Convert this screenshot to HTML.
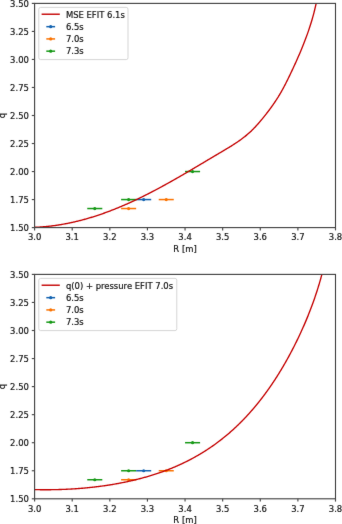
<!DOCTYPE html>
<html><head><meta charset="utf-8"><title>q profile</title>
<style>html,body{margin:0;padding:0;background:#fff;overflow:hidden}svg{display:block}</style>
</head><body>
<svg width="342" height="524" viewBox="0 0 342 524" font-family="'DejaVu Sans', 'Liberation Sans', sans-serif">
<style>text{fill:#111;stroke:#111;stroke-width:0.18px}</style>
<defs><filter id="soft" x="0" y="0" width="342" height="524" filterUnits="userSpaceOnUse" color-interpolation-filters="sRGB"><feConvolveMatrix order="3" kernelMatrix="0.01 0.05 0.01 0.05 0.76 0.05 0.01 0.05 0.01" edgeMode="duplicate"/></filter></defs>
<g filter="url(#soft)">
<rect width="342" height="524" fill="#fff"/>
<clipPath id="clip0"><rect x="34.60" y="3.40" width="300.90" height="224.20"/></clipPath>
<line x1="87.26" x2="102.30" y1="208.54" y2="208.54" stroke="#159815" stroke-width="1.5"/>
<circle cx="94.78" cy="208.54" r="1.6" fill="#159815"/>
<line x1="121.11" x2="136.15" y1="199.57" y2="199.57" stroke="#159815" stroke-width="1.5"/>
<circle cx="128.63" cy="199.57" r="1.6" fill="#159815"/>
<line x1="121.11" x2="136.15" y1="208.54" y2="208.54" stroke="#fa7200" stroke-width="1.5"/>
<circle cx="128.63" cy="208.54" r="1.6" fill="#fa7200"/>
<line x1="136.15" x2="151.20" y1="199.57" y2="199.57" stroke="#1262b0" stroke-width="1.5"/>
<circle cx="143.68" cy="199.57" r="1.6" fill="#1262b0"/>
<line x1="158.72" x2="173.77" y1="199.57" y2="199.57" stroke="#fa7200" stroke-width="1.5"/>
<circle cx="166.24" cy="199.57" r="1.6" fill="#fa7200"/>
<line x1="185.05" x2="200.09" y1="171.55" y2="171.55" stroke="#159815" stroke-width="1.5"/>
<circle cx="192.57" cy="171.55" r="1.6" fill="#159815"/>
<path d="M30.43,227.37 L31.24,227.36 L32.05,227.34 L32.86,227.32 L33.67,227.30 L34.48,227.27 L35.28,227.24 L36.09,227.21 L36.90,227.18 L37.70,227.14 L38.51,227.09 L39.31,227.05 L40.11,227.00 L40.92,226.95 L41.72,226.89 L42.52,226.83 L43.32,226.77 L44.12,226.70 L44.92,226.64 L45.72,226.56 L46.51,226.49 L47.31,226.41 L48.11,226.33 L48.90,226.25 L49.70,226.16 L50.49,226.07 L51.29,225.97 L52.08,225.88 L52.87,225.78 L53.67,225.68 L54.46,225.57 L55.25,225.46 L56.04,225.35 L56.83,225.23 L57.62,225.12 L58.41,225.00 L59.19,224.87 L59.98,224.75 L60.77,224.62 L61.55,224.49 L62.34,224.35 L63.12,224.21 L63.90,224.07 L64.69,223.93 L65.47,223.78 L66.25,223.63 L67.03,223.48 L67.81,223.33 L68.59,223.17 L69.37,223.01 L70.15,222.85 L70.93,222.68 L71.71,222.52 L72.48,222.35 L73.26,222.17 L74.03,222.00 L74.81,221.82 L75.58,221.64 L76.35,221.45 L77.13,221.27 L77.90,221.08 L78.67,220.89 L79.44,220.69 L80.21,220.50 L80.98,220.30 L81.75,220.10 L82.52,219.89 L83.28,219.69 L84.05,219.48 L84.82,219.27 L85.58,219.05 L86.35,218.84 L87.11,218.62 L87.87,218.40 L88.64,218.18 L89.40,217.95 L90.16,217.72 L90.92,217.49 L91.68,217.26 L92.44,217.03 L93.20,216.79 L93.96,216.55 L94.71,216.31 L95.47,216.07 L96.23,215.82 L96.98,215.58 L97.74,215.33 L98.49,215.08 L99.24,214.82 L100.00,214.57 L100.75,214.31 L101.50,214.05 L102.25,213.78 L103.00,213.52 L103.75,213.25 L104.50,212.99 L105.25,212.72 L105.99,212.44 L106.74,212.17 L107.49,211.89 L108.23,211.62 L108.98,211.34 L109.72,211.05 L110.47,210.77 L111.21,210.48 L111.95,210.20 L112.69,209.91 L113.43,209.62 L114.17,209.32 L114.91,209.03 L115.65,208.73 L116.39,208.43 L117.13,208.13 L117.86,207.83 L118.60,207.53 L119.33,207.22 L120.07,206.92 L120.80,206.61 L121.54,206.30 L122.27,205.98 L123.00,205.67 L123.73,205.36 L124.46,205.04 L125.19,204.72 L125.92,204.40 L126.65,204.08 L127.38,203.76 L128.11,203.43 L128.83,203.11 L129.56,202.78 L130.28,202.45 L131.01,202.12 L131.73,201.79 L132.46,201.45 L133.18,201.12 L133.90,200.78 L134.62,200.45 L135.34,200.11 L136.06,199.77 L136.78,199.42 L137.50,199.08 L138.22,198.74 L138.94,198.39 L139.65,198.04 L140.37,197.70 L141.09,197.35 L141.80,197.00 L142.52,196.64 L143.23,196.29 L143.94,195.94 L144.66,195.58 L145.37,195.22 L146.08,194.87 L146.79,194.51 L147.50,194.15 L148.21,193.78 L148.92,193.42 L149.63,193.06 L150.34,192.69 L151.05,192.33 L151.76,191.96 L152.46,191.59 L153.17,191.22 L153.88,190.85 L154.58,190.48 L155.29,190.11 L155.99,189.74 L156.70,189.36 L157.40,188.99 L158.10,188.61 L158.81,188.24 L159.51,187.86 L160.21,187.48 L160.91,187.10 L161.61,186.72 L162.31,186.34 L163.01,185.96 L163.71,185.57 L164.41,185.19 L165.11,184.80 L165.81,184.42 L166.51,184.03 L167.21,183.65 L167.91,183.26 L168.60,182.87 L169.30,182.48 L170.00,182.09 L170.69,181.70 L171.39,181.31 L172.08,180.92 L172.78,180.52 L173.47,180.13 L174.17,179.74 L174.86,179.34 L175.56,178.95 L176.25,178.55 L176.94,178.15 L177.63,177.76 L178.33,177.36 L179.02,176.96 L179.71,176.56 L180.40,176.16 L181.09,175.76 L181.79,175.36 L182.48,174.96 L183.17,174.56 L183.86,174.16 L184.55,173.76 L185.24,173.36 L185.93,172.96 L186.62,172.55 L187.31,172.15 L188.00,171.75 L188.68,171.34 L189.37,170.94 L190.06,170.53 L190.75,170.13 L191.44,169.72 L192.13,169.32 L192.81,168.91 L193.50,168.50 L194.19,168.10 L194.88,167.69 L195.56,167.28 L196.25,166.88 L196.94,166.47 L197.62,166.06 L198.31,165.65 L199.00,165.25 L199.68,164.84 L200.37,164.43 L201.05,164.02 L201.74,163.61 L202.43,163.21 L203.11,162.80 L203.80,162.39 L204.48,161.98 L205.17,161.57 L205.86,161.16 L206.54,160.76 L207.23,160.35 L207.91,159.94 L208.60,159.53 L209.28,159.12 L209.97,158.72 L210.65,158.31 L211.34,157.90 L212.02,157.49 L212.71,157.08 L213.39,156.68 L214.08,156.27 L214.76,155.86 L215.45,155.45 L216.13,155.05 L216.82,154.64 L217.50,154.23 L218.19,153.83 L218.87,153.42 L219.56,153.02 L220.25,152.61 L220.93,152.21 L221.62,151.80 L222.30,151.39 L222.99,150.99 L223.67,150.58 L224.35,150.18 L225.04,149.77 L225.72,149.36 L226.40,148.95 L227.08,148.54 L227.76,148.13 L228.44,147.72 L229.12,147.31 L229.80,146.89 L230.47,146.48 L231.15,146.06 L231.82,145.64 L232.49,145.21 L233.16,144.79 L233.82,144.36 L234.49,143.93 L235.15,143.50 L235.81,143.06 L236.47,142.63 L237.12,142.19 L237.78,141.74 L238.43,141.29 L239.08,140.84 L239.72,140.39 L240.37,139.93 L241.00,139.47 L241.64,139.00 L242.28,138.53 L242.91,138.06 L243.53,137.58 L244.16,137.09 L244.78,136.61 L245.39,136.11 L246.00,135.61 L246.61,135.11 L247.22,134.60 L247.82,134.09 L248.42,133.57 L249.01,133.05 L249.60,132.51 L250.18,131.98 L250.76,131.44 L251.33,130.89 L251.91,130.34 L252.47,129.78 L253.04,129.21 L253.59,128.65 L254.15,128.07 L254.70,127.50 L255.25,126.92 L255.80,126.33 L256.34,125.74 L256.88,125.15 L257.41,124.55 L257.94,123.95 L258.47,123.35 L259.00,122.74 L259.53,122.14 L260.05,121.53 L260.57,120.91 L261.08,120.30 L261.60,119.68 L262.11,119.06 L262.62,118.44 L263.13,117.82 L263.64,117.19 L264.14,116.57 L264.64,115.94 L265.14,115.31 L265.64,114.68 L266.14,114.05 L266.63,113.42 L267.12,112.78 L267.61,112.15 L268.10,111.51 L268.58,110.87 L269.07,110.23 L269.54,109.59 L270.02,108.94 L270.49,108.30 L270.97,107.65 L271.43,107.00 L271.90,106.35 L272.36,105.70 L272.82,105.04 L273.28,104.39 L273.73,103.73 L274.19,103.07 L274.63,102.41 L275.08,101.75 L275.52,101.08 L275.96,100.42 L276.40,99.75 L276.83,99.08 L277.26,98.41 L277.68,97.74 L278.11,97.07 L278.52,96.39 L278.94,95.71 L279.35,95.03 L279.76,94.35 L280.16,93.67 L280.57,92.98 L280.96,92.30 L281.36,91.61 L281.75,90.92 L282.13,90.23 L282.52,89.53 L282.90,88.84 L283.28,88.14 L283.65,87.45 L284.02,86.75 L284.39,86.05 L284.76,85.34 L285.13,84.64 L285.49,83.94 L285.85,83.23 L286.21,82.53 L286.56,81.82 L286.92,81.11 L287.27,80.40 L287.62,79.69 L287.97,78.98 L288.32,78.26 L288.67,77.55 L289.01,76.84 L289.36,76.12 L289.70,75.41 L290.04,74.69 L290.39,73.97 L290.73,73.26 L291.07,72.54 L291.41,71.82 L291.75,71.10 L292.09,70.38 L292.43,69.66 L292.76,68.94 L293.10,68.22 L293.44,67.50 L293.77,66.77 L294.11,66.05 L294.44,65.33 L294.77,64.60 L295.10,63.88 L295.43,63.15 L295.76,62.42 L296.09,61.70 L296.42,60.97 L296.74,60.24 L297.07,59.51 L297.39,58.78 L297.71,58.05 L298.04,57.32 L298.36,56.59 L298.67,55.86 L298.99,55.13 L299.31,54.40 L299.62,53.66 L299.94,52.93 L300.25,52.19 L300.56,51.46 L300.87,50.72 L301.17,49.98 L301.48,49.25 L301.79,48.51 L302.09,47.77 L302.39,47.03 L302.69,46.29 L302.99,45.55 L303.28,44.81 L303.58,44.07 L303.87,43.32 L304.16,42.58 L304.45,41.84 L304.74,41.09 L305.02,40.35 L305.31,39.60 L305.59,38.85 L305.87,38.11 L306.15,37.36 L306.42,36.61 L306.70,35.86 L306.97,35.11 L307.24,34.36 L307.51,33.61 L307.77,32.86 L308.04,32.11 L308.30,31.35 L308.56,30.60 L308.82,29.84 L309.07,29.09 L309.32,28.33 L309.57,27.58 L309.82,26.82 L310.07,26.06 L310.31,25.30 L310.55,24.54 L310.79,23.78 L311.03,23.02 L311.26,22.26 L311.49,21.50 L311.72,20.74 L311.95,19.97 L312.17,19.21 L312.39,18.44 L312.61,17.68 L312.82,16.91 L313.04,16.14 L313.25,15.38 L313.45,14.61 L313.66,13.84 L313.86,13.07 L314.06,12.30 L314.25,11.53 L314.45,10.75 L314.64,9.98 L314.82,9.21 L315.01,8.43 L315.19,7.66 L315.37,6.88 L315.54,6.11 L315.72,5.33 L315.88,4.55 L316.05,3.77 L316.21,2.99 L316.37,2.21 L316.53,1.43 L316.68,0.65 L316.83,-0.13 L316.98,-0.92 L317.12,-1.70 L317.26,-2.48 L317.40,-3.27 L317.53,-4.06 L317.66,-4.84" fill="none" stroke="#c40000" stroke-width="1.35" clip-path="url(#clip0)"/>
<rect x="34.60" y="3.40" width="300.90" height="224.20" fill="none" stroke="#3c3c3c" stroke-width="1.1"/>
<line x1="31.80" x2="34.60" y1="227.60" y2="227.60" stroke="#484848" stroke-width="1.15"/>
<text x="28.9" y="231.18" text-anchor="end" font-size="8.45">1.50</text>
<line x1="31.80" x2="34.60" y1="199.57" y2="199.57" stroke="#484848" stroke-width="1.15"/>
<text x="28.9" y="203.16" text-anchor="end" font-size="8.45">1.75</text>
<line x1="31.80" x2="34.60" y1="171.55" y2="171.55" stroke="#484848" stroke-width="1.15"/>
<text x="28.9" y="175.13" text-anchor="end" font-size="8.45">2.00</text>
<line x1="31.80" x2="34.60" y1="143.53" y2="143.53" stroke="#484848" stroke-width="1.15"/>
<text x="28.9" y="147.11" text-anchor="end" font-size="8.45">2.25</text>
<line x1="31.80" x2="34.60" y1="115.50" y2="115.50" stroke="#484848" stroke-width="1.15"/>
<text x="28.9" y="119.08" text-anchor="end" font-size="8.45">2.50</text>
<line x1="31.80" x2="34.60" y1="87.47" y2="87.47" stroke="#484848" stroke-width="1.15"/>
<text x="28.9" y="91.06" text-anchor="end" font-size="8.45">2.75</text>
<line x1="31.80" x2="34.60" y1="59.45" y2="59.45" stroke="#484848" stroke-width="1.15"/>
<text x="28.9" y="63.03" text-anchor="end" font-size="8.45">3.00</text>
<line x1="31.80" x2="34.60" y1="31.43" y2="31.43" stroke="#484848" stroke-width="1.15"/>
<text x="28.9" y="35.01" text-anchor="end" font-size="8.45">3.25</text>
<line x1="31.80" x2="34.60" y1="3.40" y2="3.40" stroke="#484848" stroke-width="1.15"/>
<text x="28.9" y="6.98" text-anchor="end" font-size="8.45">3.50</text>
<line x1="34.60" x2="34.60" y1="227.60" y2="230.40" stroke="#484848" stroke-width="1.15"/>
<text x="34.60" y="240.36" text-anchor="middle" font-size="8.45">3.0</text>
<line x1="72.21" x2="72.21" y1="227.60" y2="230.40" stroke="#484848" stroke-width="1.15"/>
<text x="72.21" y="240.36" text-anchor="middle" font-size="8.45">3.1</text>
<line x1="109.83" x2="109.83" y1="227.60" y2="230.40" stroke="#484848" stroke-width="1.15"/>
<text x="109.83" y="240.36" text-anchor="middle" font-size="8.45">3.2</text>
<line x1="147.44" x2="147.44" y1="227.60" y2="230.40" stroke="#484848" stroke-width="1.15"/>
<text x="147.44" y="240.36" text-anchor="middle" font-size="8.45">3.3</text>
<line x1="185.05" x2="185.05" y1="227.60" y2="230.40" stroke="#484848" stroke-width="1.15"/>
<text x="185.05" y="240.36" text-anchor="middle" font-size="8.45">3.4</text>
<line x1="222.66" x2="222.66" y1="227.60" y2="230.40" stroke="#484848" stroke-width="1.15"/>
<text x="222.66" y="240.36" text-anchor="middle" font-size="8.45">3.5</text>
<line x1="260.28" x2="260.28" y1="227.60" y2="230.40" stroke="#484848" stroke-width="1.15"/>
<text x="260.28" y="240.36" text-anchor="middle" font-size="8.45">3.6</text>
<line x1="297.89" x2="297.89" y1="227.60" y2="230.40" stroke="#484848" stroke-width="1.15"/>
<text x="297.89" y="240.36" text-anchor="middle" font-size="8.45">3.7</text>
<line x1="335.50" x2="335.50" y1="227.60" y2="230.40" stroke="#484848" stroke-width="1.15"/>
<text x="335.50" y="240.36" text-anchor="middle" font-size="8.45">3.8</text>
<text x="185.05" y="251.96" text-anchor="middle" font-size="8.45">R [m]</text>
<text transform="translate(4.90,115.50) rotate(-90)" text-anchor="middle" font-size="8.45">q</text>
<rect x="38.80" y="7.40" width="89.20" height="52.20" rx="1.8" fill="#fff" fill-opacity="0.8" stroke="#d0d0d0" stroke-width="0.9"/>
<line x1="41.6" x2="59.8" y1="14.22" y2="14.22" stroke="#c40000" stroke-width="1.4"/>
<text x="65.9" y="17.70" font-size="8.45">MSE EFIT 6.1s</text>
<line x1="46.3" x2="55.1" y1="26.67" y2="26.67" stroke="#1262b0" stroke-width="1.5"/>
<circle cx="50.7" cy="26.67" r="1.6" fill="#1262b0"/>
<text x="65.9" y="29.95" font-size="8.45">6.5s</text>
<line x1="46.3" x2="55.1" y1="38.92" y2="38.92" stroke="#fa7200" stroke-width="1.5"/>
<circle cx="50.7" cy="38.92" r="1.6" fill="#fa7200"/>
<text x="65.9" y="42.20" font-size="8.45">7.0s</text>
<line x1="46.3" x2="55.1" y1="51.17" y2="51.17" stroke="#159815" stroke-width="1.5"/>
<circle cx="50.7" cy="51.17" r="1.6" fill="#159815"/>
<text x="65.9" y="54.45" font-size="8.45">7.3s</text>
<clipPath id="clip1"><rect x="34.60" y="274.40" width="300.90" height="224.40"/></clipPath>
<line x1="87.26" x2="102.30" y1="479.73" y2="479.73" stroke="#159815" stroke-width="1.5"/>
<circle cx="94.78" cy="479.73" r="1.6" fill="#159815"/>
<line x1="121.11" x2="136.15" y1="470.75" y2="470.75" stroke="#159815" stroke-width="1.5"/>
<circle cx="128.63" cy="470.75" r="1.6" fill="#159815"/>
<line x1="121.11" x2="136.15" y1="479.73" y2="479.73" stroke="#fa7200" stroke-width="1.5"/>
<circle cx="128.63" cy="479.73" r="1.6" fill="#fa7200"/>
<line x1="136.15" x2="151.20" y1="470.75" y2="470.75" stroke="#1262b0" stroke-width="1.5"/>
<circle cx="143.68" cy="470.75" r="1.6" fill="#1262b0"/>
<line x1="158.72" x2="173.77" y1="470.75" y2="470.75" stroke="#fa7200" stroke-width="1.5"/>
<circle cx="166.24" cy="470.75" r="1.6" fill="#fa7200"/>
<line x1="185.05" x2="200.09" y1="442.70" y2="442.70" stroke="#159815" stroke-width="1.5"/>
<circle cx="192.57" cy="442.70" r="1.6" fill="#159815"/>
<path d="M30.54,489.51 L31.35,489.54 L32.16,489.56 L32.97,489.58 L33.78,489.60 L34.59,489.62 L35.40,489.63 L36.21,489.65 L37.02,489.66 L37.83,489.68 L38.65,489.69 L39.46,489.70 L40.27,489.71 L41.08,489.72 L41.89,489.72 L42.70,489.73 L43.52,489.73 L44.33,489.73 L45.14,489.74 L45.95,489.74 L46.77,489.73 L47.58,489.73 L48.39,489.73 L49.20,489.72 L50.02,489.71 L50.83,489.71 L51.64,489.70 L52.46,489.68 L53.27,489.67 L54.08,489.66 L54.90,489.64 L55.71,489.62 L56.52,489.61 L57.34,489.59 L58.15,489.56 L58.96,489.54 L59.78,489.52 L60.59,489.49 L61.40,489.46 L62.22,489.43 L63.03,489.40 L63.85,489.37 L64.66,489.34 L65.47,489.30 L66.29,489.27 L67.10,489.23 L67.91,489.19 L68.73,489.15 L69.54,489.11 L70.35,489.06 L71.17,489.02 L71.98,488.97 L72.80,488.92 L73.61,488.87 L74.42,488.82 L75.23,488.76 L76.05,488.71 L76.86,488.65 L77.67,488.59 L78.49,488.53 L79.30,488.47 L80.11,488.41 L80.92,488.34 L81.74,488.28 L82.55,488.21 L83.36,488.14 L84.17,488.07 L84.99,487.99 L85.80,487.92 L86.61,487.84 L87.42,487.76 L88.23,487.68 L89.04,487.60 L89.85,487.52 L90.66,487.43 L91.48,487.35 L92.29,487.26 L93.10,487.17 L93.91,487.07 L94.72,486.98 L95.53,486.88 L96.34,486.79 L97.14,486.69 L97.95,486.59 L98.76,486.48 L99.57,486.38 L100.38,486.27 L101.19,486.17 L102.00,486.06 L102.80,485.94 L103.61,485.83 L104.42,485.71 L105.22,485.60 L106.03,485.48 L106.84,485.36 L107.64,485.23 L108.45,485.11 L109.25,484.98 L110.06,484.86 L110.86,484.73 L111.67,484.59 L112.47,484.46 L113.28,484.32 L114.08,484.19 L114.88,484.05 L115.69,483.90 L116.49,483.76 L117.29,483.61 L118.09,483.47 L118.90,483.32 L119.70,483.17 L120.50,483.01 L121.30,482.86 L122.10,482.70 L122.90,482.54 L123.70,482.38 L124.50,482.22 L125.29,482.05 L126.09,481.88 L126.89,481.72 L127.69,481.54 L128.48,481.37 L129.28,481.20 L130.08,481.02 L130.87,480.84 L131.67,480.66 L132.46,480.47 L133.26,480.29 L134.05,480.10 L134.84,479.91 L135.64,479.72 L136.43,479.53 L137.22,479.33 L138.01,479.13 L138.80,478.93 L139.59,478.73 L140.38,478.52 L141.17,478.32 L141.96,478.11 L142.75,477.90 L143.53,477.68 L144.32,477.46 L145.10,477.25 L145.89,477.03 L146.67,476.80 L147.46,476.58 L148.24,476.35 L149.02,476.12 L149.80,475.89 L150.58,475.65 L151.36,475.41 L152.14,475.17 L152.92,474.93 L153.70,474.69 L154.48,474.44 L155.25,474.19 L156.03,473.94 L156.80,473.68 L157.57,473.43 L158.35,473.17 L159.12,472.90 L159.89,472.64 L160.66,472.37 L161.43,472.10 L162.19,471.83 L162.96,471.55 L163.73,471.27 L164.49,470.99 L165.26,470.71 L166.02,470.42 L166.78,470.14 L167.54,469.84 L168.30,469.55 L169.06,469.25 L169.82,468.95 L170.57,468.65 L171.33,468.34 L172.08,468.04 L172.84,467.73 L173.59,467.41 L174.34,467.10 L175.09,466.78 L175.84,466.45 L176.59,466.13 L177.33,465.80 L178.08,465.47 L178.82,465.14 L179.56,464.80 L180.31,464.46 L181.05,464.12 L181.78,463.77 L182.52,463.42 L183.26,463.07 L183.99,462.72 L184.73,462.36 L185.46,462.00 L186.19,461.64 L186.92,461.28 L187.65,460.91 L188.37,460.54 L189.10,460.17 L189.82,459.79 L190.54,459.41 L191.26,459.03 L191.98,458.65 L192.70,458.26 L193.42,457.87 L194.13,457.48 L194.84,457.08 L195.55,456.68 L196.26,456.28 L196.97,455.88 L197.68,455.47 L198.38,455.06 L199.09,454.65 L199.79,454.24 L200.49,453.82 L201.18,453.40 L201.88,452.98 L202.58,452.56 L203.27,452.13 L203.96,451.70 L204.65,451.26 L205.34,450.83 L206.02,450.39 L206.71,449.95 L207.39,449.51 L208.07,449.06 L208.75,448.61 L209.42,448.16 L210.10,447.71 L210.77,447.25 L211.44,446.79 L212.11,446.33 L212.78,445.87 L213.44,445.40 L214.11,444.93 L214.77,444.46 L215.43,443.98 L216.08,443.51 L216.74,443.03 L217.39,442.54 L218.04,442.06 L218.69,441.57 L219.34,441.08 L219.98,440.59 L220.62,440.09 L221.26,439.60 L221.90,439.10 L222.54,438.59 L223.17,438.09 L223.80,437.58 L224.43,437.07 L225.06,436.56 L225.68,436.04 L226.31,435.53 L226.93,435.01 L227.55,434.49 L228.16,433.96 L228.78,433.43 L229.39,432.91 L230.00,432.37 L230.61,431.84 L231.22,431.30 L231.82,430.77 L232.42,430.22 L233.02,429.68 L233.62,429.14 L234.22,428.59 L234.81,428.04 L235.40,427.49 L235.99,426.93 L236.58,426.38 L237.17,425.82 L237.75,425.26 L238.33,424.70 L238.91,424.13 L239.49,423.56 L240.07,422.99 L240.64,422.42 L241.21,421.85 L241.78,421.27 L242.35,420.70 L242.91,420.12 L243.48,419.54 L244.04,418.95 L244.60,418.37 L245.16,417.78 L245.71,417.19 L246.27,416.60 L246.82,416.00 L247.37,415.41 L247.92,414.81 L248.46,414.21 L249.01,413.61 L249.55,413.01 L250.09,412.40 L250.63,411.79 L251.16,411.18 L251.70,410.57 L252.23,409.96 L252.76,409.35 L253.29,408.73 L253.82,408.11 L254.34,407.49 L254.86,406.87 L255.38,406.25 L255.90,405.62 L256.42,404.99 L256.94,404.37 L257.45,403.74 L257.96,403.10 L258.47,402.47 L258.98,401.83 L259.48,401.20 L259.99,400.56 L260.49,399.92 L260.99,399.28 L261.49,398.63 L261.99,397.99 L262.48,397.34 L262.97,396.69 L263.46,396.04 L263.95,395.39 L264.44,394.74 L264.93,394.08 L265.41,393.43 L265.89,392.77 L266.37,392.11 L266.85,391.45 L267.33,390.79 L267.80,390.13 L268.28,389.46 L268.75,388.80 L269.22,388.13 L269.68,387.46 L270.15,386.79 L270.61,386.12 L271.08,385.44 L271.54,384.77 L271.99,384.09 L272.45,383.42 L272.91,382.74 L273.36,382.06 L273.81,381.38 L274.26,380.70 L274.71,380.01 L275.16,379.33 L275.60,378.64 L276.04,377.95 L276.49,377.27 L276.93,376.58 L277.36,375.89 L277.80,375.19 L278.23,374.50 L278.67,373.81 L279.10,373.11 L279.53,372.42 L279.96,371.72 L280.38,371.02 L280.81,370.32 L281.23,369.62 L281.65,368.92 L282.07,368.22 L282.49,367.51 L282.90,366.81 L283.32,366.10 L283.73,365.40 L284.14,364.69 L284.55,363.98 L284.96,363.27 L285.36,362.56 L285.77,361.85 L286.17,361.14 L286.57,360.42 L286.97,359.71 L287.37,358.99 L287.77,358.28 L288.16,357.56 L288.56,356.84 L288.95,356.13 L289.34,355.41 L289.73,354.69 L290.11,353.97 L290.50,353.24 L290.88,352.52 L291.26,351.80 L291.64,351.08 L292.02,350.35 L292.40,349.63 L292.78,348.90 L293.15,348.17 L293.52,347.45 L293.90,346.72 L294.27,345.99 L294.63,345.26 L295.00,344.53 L295.37,343.80 L295.73,343.07 L296.09,342.34 L296.45,341.61 L296.81,340.88 L297.17,340.14 L297.52,339.41 L297.88,338.68 L298.23,337.94 L298.58,337.21 L298.93,336.47 L299.28,335.73 L299.63,335.00 L299.97,334.26 L300.32,333.52 L300.66,332.78 L301.00,332.04 L301.34,331.30 L301.67,330.56 L302.01,329.82 L302.34,329.08 L302.68,328.34 L303.01,327.59 L303.34,326.85 L303.66,326.11 L303.99,325.36 L304.32,324.62 L304.64,323.87 L304.96,323.12 L305.28,322.38 L305.60,321.63 L305.91,320.88 L306.23,320.13 L306.54,319.38 L306.85,318.63 L307.16,317.88 L307.47,317.13 L307.78,316.38 L308.08,315.63 L308.39,314.87 L308.69,314.12 L308.99,313.37 L309.28,312.61 L309.58,311.85 L309.88,311.10 L310.17,310.34 L310.46,309.58 L310.75,308.83 L311.04,308.07 L311.32,307.31 L311.61,306.55 L311.89,305.79 L312.17,305.03 L312.45,304.26 L312.73,303.50 L313.01,302.74 L313.28,301.97 L313.55,301.21 L313.82,300.44 L314.09,299.68 L314.36,298.91 L314.63,298.15 L314.89,297.38 L315.15,296.61 L315.41,295.84 L315.67,295.07 L315.93,294.30 L316.18,293.53 L316.44,292.76 L316.69,291.99 L316.94,291.21 L317.19,290.44 L317.43,289.67 L317.68,288.89 L317.92,288.12 L318.16,287.34 L318.40,286.56 L318.63,285.78 L318.87,285.01 L319.10,284.23 L319.34,283.45 L319.56,282.67 L319.79,281.89 L320.02,281.11 L320.24,280.32 L320.47,279.54 L320.69,278.76 L320.91,277.97 L321.12,277.19 L321.34,276.40 L321.55,275.62 L321.76,274.83 L321.97,274.04 L322.18,273.25 L322.38,272.46 L322.59,271.67 L322.79,270.88 L322.99,270.09 L323.19,269.30 L323.38,268.51 L323.58,267.72 L323.77,266.92 L323.96,266.13" fill="none" stroke="#c40000" stroke-width="1.35" clip-path="url(#clip1)"/>
<rect x="34.60" y="274.40" width="300.90" height="224.40" fill="none" stroke="#3c3c3c" stroke-width="1.1"/>
<line x1="31.80" x2="34.60" y1="498.80" y2="498.80" stroke="#484848" stroke-width="1.15"/>
<text x="28.9" y="502.03" text-anchor="end" font-size="8.45">1.50</text>
<line x1="31.80" x2="34.60" y1="470.75" y2="470.75" stroke="#484848" stroke-width="1.15"/>
<text x="28.9" y="473.98" text-anchor="end" font-size="8.45">1.75</text>
<line x1="31.80" x2="34.60" y1="442.70" y2="442.70" stroke="#484848" stroke-width="1.15"/>
<text x="28.9" y="445.93" text-anchor="end" font-size="8.45">2.00</text>
<line x1="31.80" x2="34.60" y1="414.65" y2="414.65" stroke="#484848" stroke-width="1.15"/>
<text x="28.9" y="417.88" text-anchor="end" font-size="8.45">2.25</text>
<line x1="31.80" x2="34.60" y1="386.60" y2="386.60" stroke="#484848" stroke-width="1.15"/>
<text x="28.9" y="389.83" text-anchor="end" font-size="8.45">2.50</text>
<line x1="31.80" x2="34.60" y1="358.55" y2="358.55" stroke="#484848" stroke-width="1.15"/>
<text x="28.9" y="361.78" text-anchor="end" font-size="8.45">2.75</text>
<line x1="31.80" x2="34.60" y1="330.50" y2="330.50" stroke="#484848" stroke-width="1.15"/>
<text x="28.9" y="333.73" text-anchor="end" font-size="8.45">3.00</text>
<line x1="31.80" x2="34.60" y1="302.45" y2="302.45" stroke="#484848" stroke-width="1.15"/>
<text x="28.9" y="305.68" text-anchor="end" font-size="8.45">3.25</text>
<line x1="31.80" x2="34.60" y1="274.40" y2="274.40" stroke="#484848" stroke-width="1.15"/>
<text x="28.9" y="277.63" text-anchor="end" font-size="8.45">3.50</text>
<line x1="34.60" x2="34.60" y1="498.80" y2="501.60" stroke="#484848" stroke-width="1.15"/>
<text x="34.60" y="511.56" text-anchor="middle" font-size="8.45">3.0</text>
<line x1="72.21" x2="72.21" y1="498.80" y2="501.60" stroke="#484848" stroke-width="1.15"/>
<text x="72.21" y="511.56" text-anchor="middle" font-size="8.45">3.1</text>
<line x1="109.83" x2="109.83" y1="498.80" y2="501.60" stroke="#484848" stroke-width="1.15"/>
<text x="109.83" y="511.56" text-anchor="middle" font-size="8.45">3.2</text>
<line x1="147.44" x2="147.44" y1="498.80" y2="501.60" stroke="#484848" stroke-width="1.15"/>
<text x="147.44" y="511.56" text-anchor="middle" font-size="8.45">3.3</text>
<line x1="185.05" x2="185.05" y1="498.80" y2="501.60" stroke="#484848" stroke-width="1.15"/>
<text x="185.05" y="511.56" text-anchor="middle" font-size="8.45">3.4</text>
<line x1="222.66" x2="222.66" y1="498.80" y2="501.60" stroke="#484848" stroke-width="1.15"/>
<text x="222.66" y="511.56" text-anchor="middle" font-size="8.45">3.5</text>
<line x1="260.28" x2="260.28" y1="498.80" y2="501.60" stroke="#484848" stroke-width="1.15"/>
<text x="260.28" y="511.56" text-anchor="middle" font-size="8.45">3.6</text>
<line x1="297.89" x2="297.89" y1="498.80" y2="501.60" stroke="#484848" stroke-width="1.15"/>
<text x="297.89" y="511.56" text-anchor="middle" font-size="8.45">3.7</text>
<line x1="335.50" x2="335.50" y1="498.80" y2="501.60" stroke="#484848" stroke-width="1.15"/>
<text x="335.50" y="511.56" text-anchor="middle" font-size="8.45">3.8</text>
<text x="185.05" y="523.16" text-anchor="middle" font-size="8.45">R [m]</text>
<text transform="translate(4.90,386.60) rotate(-90)" text-anchor="middle" font-size="8.45">q</text>
<rect x="38.80" y="278.40" width="138.00" height="52.20" rx="1.8" fill="#fff" fill-opacity="0.8" stroke="#d0d0d0" stroke-width="0.9"/>
<line x1="41.6" x2="59.8" y1="285.22" y2="285.22" stroke="#c40000" stroke-width="1.4"/>
<text x="65.9" y="288.70" font-size="8.45">q(0) + pressure EFIT 7.0s</text>
<line x1="46.3" x2="55.1" y1="297.67" y2="297.67" stroke="#1262b0" stroke-width="1.5"/>
<circle cx="50.7" cy="297.67" r="1.6" fill="#1262b0"/>
<text x="65.9" y="300.95" font-size="8.45">6.5s</text>
<line x1="46.3" x2="55.1" y1="309.92" y2="309.92" stroke="#fa7200" stroke-width="1.5"/>
<circle cx="50.7" cy="309.92" r="1.6" fill="#fa7200"/>
<text x="65.9" y="313.20" font-size="8.45">7.0s</text>
<line x1="46.3" x2="55.1" y1="322.17" y2="322.17" stroke="#159815" stroke-width="1.5"/>
<circle cx="50.7" cy="322.17" r="1.6" fill="#159815"/>
<text x="65.9" y="325.45" font-size="8.45">7.3s</text>
</g>
</svg>
</body></html>
